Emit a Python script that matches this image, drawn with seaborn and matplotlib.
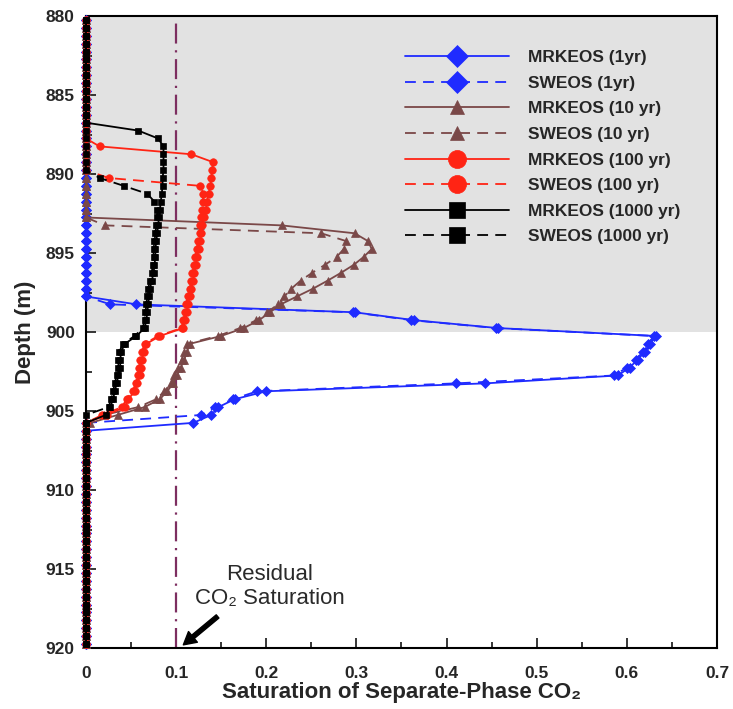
import numpy as np
import pandas as pd
import matplotlib
matplotlib.use("Agg")
import matplotlib.pyplot as plt
from matplotlib.ticker import MultipleLocator, FixedLocator, FixedFormatter
import seaborn as sns

sns.set_style("ticks")
plt.rcParams["font.family"] = ["Liberation Sans", "DejaVu Sans"]

# Model cell centres (m), 0.5 m spacing over the 880-920 m column
depth = np.arange(880.25, 920.0, 0.5)

# Saturation profiles: first non-zero-region depth and the values from there on;
# cells outside the listed range hold no separate-phase CO2 (saturation 0).
mrk_1yr_top = 898.25
mrk_1yr = [0.056, 0.298, 0.364, 0.457, 0.632, 0.626, 0.620, 0.612, 0.603, 0.590,
           0.443, 0.200, 0.165, 0.147, 0.139, 0.119]
swe_1yr_top = 898.25
swe_1yr = [0.027, 0.296, 0.361, 0.455, 0.630, 0.624, 0.618, 0.610, 0.600, 0.586,
           0.410, 0.190, 0.163, 0.143, 0.128]

mrk_10yr_top = 893.25
mrk_10yr = [0.217, 0.298, 0.313, 0.317, 0.308, 0.297, 0.283, 0.268, 0.252, 0.234,
            0.216, 0.204, 0.192, 0.175, 0.150, 0.115, 0.112, 0.109, 0.105, 0.101,
            0.097, 0.090, 0.082, 0.065, 0.035, 0.005]
swe_10yr_top = 893.25
swe_10yr = [0.021, 0.261, 0.289, 0.286, 0.278, 0.265, 0.251, 0.238, 0.228, 0.220,
            0.213, 0.201, 0.189, 0.171, 0.146, 0.112, 0.109, 0.106, 0.102, 0.098,
            0.094, 0.087, 0.078, 0.058, 0.020]

mrk_100yr_top = 888.25
mrk_100yr = [0.015, 0.117, 0.141, 0.140, 0.139, 0.138, 0.136, 0.134, 0.133, 0.131,
             0.129, 0.128, 0.126, 0.125, 0.123, 0.122, 0.120, 0.119, 0.117, 0.115,
             0.113, 0.112, 0.110, 0.108, 0.082, 0.067, 0.064, 0.062, 0.061, 0.060,
             0.057, 0.054, 0.047, 0.043, 0.023]
swe_100yr_top = 890.25
swe_100yr = [0.025, 0.127, 0.130, 0.130, 0.129, 0.128, 0.127, 0.126, 0.124, 0.123,
             0.121, 0.120, 0.118, 0.117, 0.115, 0.113, 0.111, 0.110, 0.108, 0.106,
             0.080, 0.065, 0.062, 0.060, 0.059, 0.058, 0.055, 0.052, 0.045, 0.040,
             0.018]

mrk_1000yr_top = 887.25
mrk_1000yr = [0.058, 0.080, 0.086, 0.086, 0.086, 0.086, 0.085, 0.085, 0.084, 0.083,
              0.082, 0.081, 0.080, 0.079, 0.078, 0.077, 0.077, 0.076, 0.075, 0.073,
              0.071, 0.070, 0.069, 0.068, 0.067, 0.065, 0.056, 0.043, 0.039, 0.038,
              0.038, 0.036, 0.034, 0.032, 0.030, 0.027, 0.022]
swe_1000yr_top = 890.25
swe_1000yr = [0.015, 0.042, 0.068, 0.076, 0.079, 0.079, 0.078, 0.077, 0.076, 0.075,
              0.075, 0.074, 0.073, 0.071, 0.069, 0.068, 0.067, 0.066, 0.065, 0.063,
              0.054, 0.041, 0.037, 0.036, 0.036, 0.034, 0.032, 0.030, 0.028, 0.025]

labels = ["MRKEOS (1yr)", "SWEOS (1yr)", "MRKEOS (10 yr)", "SWEOS (10 yr)",
          "MRKEOS (100 yr)", "SWEOS (100 yr)", "MRKEOS (1000 yr)", "SWEOS (1000 yr)"]

xtick_values = [0, 0.1, 0.2, 0.3, 0.4, 0.5, 0.6, 0.7]
xtick_labels = ["0", "0.1", "0.2", "0.3", "0.4", "0.5", "0.6", "0.7"]
ytick_values = [880, 885, 890, 895, 900, 905, 910, 915, 920]

residual_saturation = 0.1
caprock_interval = (880, 900)


def profile(top, values):
    sat = np.zeros_like(depth)
    start = int(round((top - depth[0]) / 0.5))
    sat[start:start + len(values)] = values
    return sat


series = [
    (mrk_1yr_top, mrk_1yr), (swe_1yr_top, swe_1yr),
    (mrk_10yr_top, mrk_10yr), (swe_10yr_top, swe_10yr),
    (mrk_100yr_top, mrk_100yr), (swe_100yr_top, swe_100yr),
    (mrk_1000yr_top, mrk_1000yr), (swe_1000yr_top, swe_1000yr),
]

blue, brown, red, black = "#1f2bff", "#7a4848", "#ff2414", "#000000"
solid, dashed = "-", (0, (6, 4))
styles = [
    dict(color=blue, marker="D", ms=5.0, ls=solid),
    dict(color=blue, marker="D", ms=5.0, ls=dashed),
    dict(color=brown, marker="^", ms=5.5, ls=solid),
    dict(color=brown, marker="^", ms=5.5, ls=dashed),
    dict(color=red, marker="o", ms=5.4, ls=solid),
    dict(color=red, marker="o", ms=5.4, ls=dashed),
    dict(color=black, marker="s", ms=4.2, ls=solid),
    dict(color=black, marker="s", ms=4.2, ls=dashed),
]
legend_ms = [11, 11, 10, 10, 13, 13, 11, 11]

fig = plt.figure(figsize=(7.33, 7.09), dpi=100)
ax = fig.add_axes([0.1173, 0.086, 0.8608, 0.8914])

ax.axhspan(*caprock_interval, color="#e2e2e2", lw=0, zorder=0)

for (top, vals), lab, st in zip(series, labels, styles):
    df = pd.DataFrame({"sat": profile(top, vals), "depth": depth})
    sns.lineplot(data=df, x="sat", y="depth", sort=False, estimator=None,
                 orient="y", ax=ax, color=st["color"], marker=st["marker"],
                 markersize=st["ms"], markeredgecolor=st["color"],
                 markerfacecolor=st["color"], markeredgewidth=0.5,
                 linestyle=st["ls"], linewidth=1.3, label=lab, clip_on=False)

ax.axvline(residual_saturation, color="#7d2e60", lw=1.6,
           linestyle=(0, (9, 3, 1, 3)), zorder=1)

ax.set_xlim(0, 0.7)
ax.set_ylim(920, 880)
ax.xaxis.set_major_locator(FixedLocator(xtick_values))
ax.xaxis.set_major_formatter(FixedFormatter(xtick_labels))
ax.xaxis.set_minor_locator(MultipleLocator(0.05))
ax.yaxis.set_major_locator(FixedLocator(ytick_values))
ax.yaxis.set_minor_locator(MultipleLocator(2.5))
ax.tick_params(axis="both", which="both", direction="in", width=1.3,
               top=False, right=False)
ax.tick_params(axis="both", which="major", length=7, labelsize=12.5)
ax.tick_params(axis="both", which="minor", length=4)
ax.tick_params(axis="x", which="major", pad=13)
ax.tick_params(axis="y", which="major", pad=8)
for lab in ax.get_xticklabels() + ax.get_yticklabels():
    lab.set_fontweight("bold")
for sp in ax.spines.values():
    sp.set_linewidth(1.5)
    sp.set_color("black")
    sp.set_zorder(1.5)

ax.set_xlabel("Saturation of Separate-Phase CO\u2082", fontsize=16,
              fontweight="bold", labelpad=1)
ax.set_ylabel("Depth (m)", fontsize=16, fontweight="bold", labelpad=7)

ax.text(0.204, 916.1, "Residual\nCO\u2082 Saturation", ha="center", va="center",
        fontsize=16, color="#2a2a2a", linespacing=1.15)
ax.annotate("", xy=(0.108, 919.8), xytext=(0.146, 918.0),
            arrowprops=dict(facecolor="black", edgecolor="black", width=3,
                            headwidth=10, headlength=9, shrink=0))

leg = ax.legend(loc="upper left", bbox_to_anchor=(0.505, 0.946), frameon=False,
                prop=dict(weight="bold", size=12.5), labelspacing=0.6,
                handlelength=6.0, handletextpad=1.1, borderpad=0,
                borderaxespad=0)
for h, ms in zip(leg.legend_handles, legend_ms):
    h.set_markersize(ms)

fig.savefig("out.png", dpi=100)
